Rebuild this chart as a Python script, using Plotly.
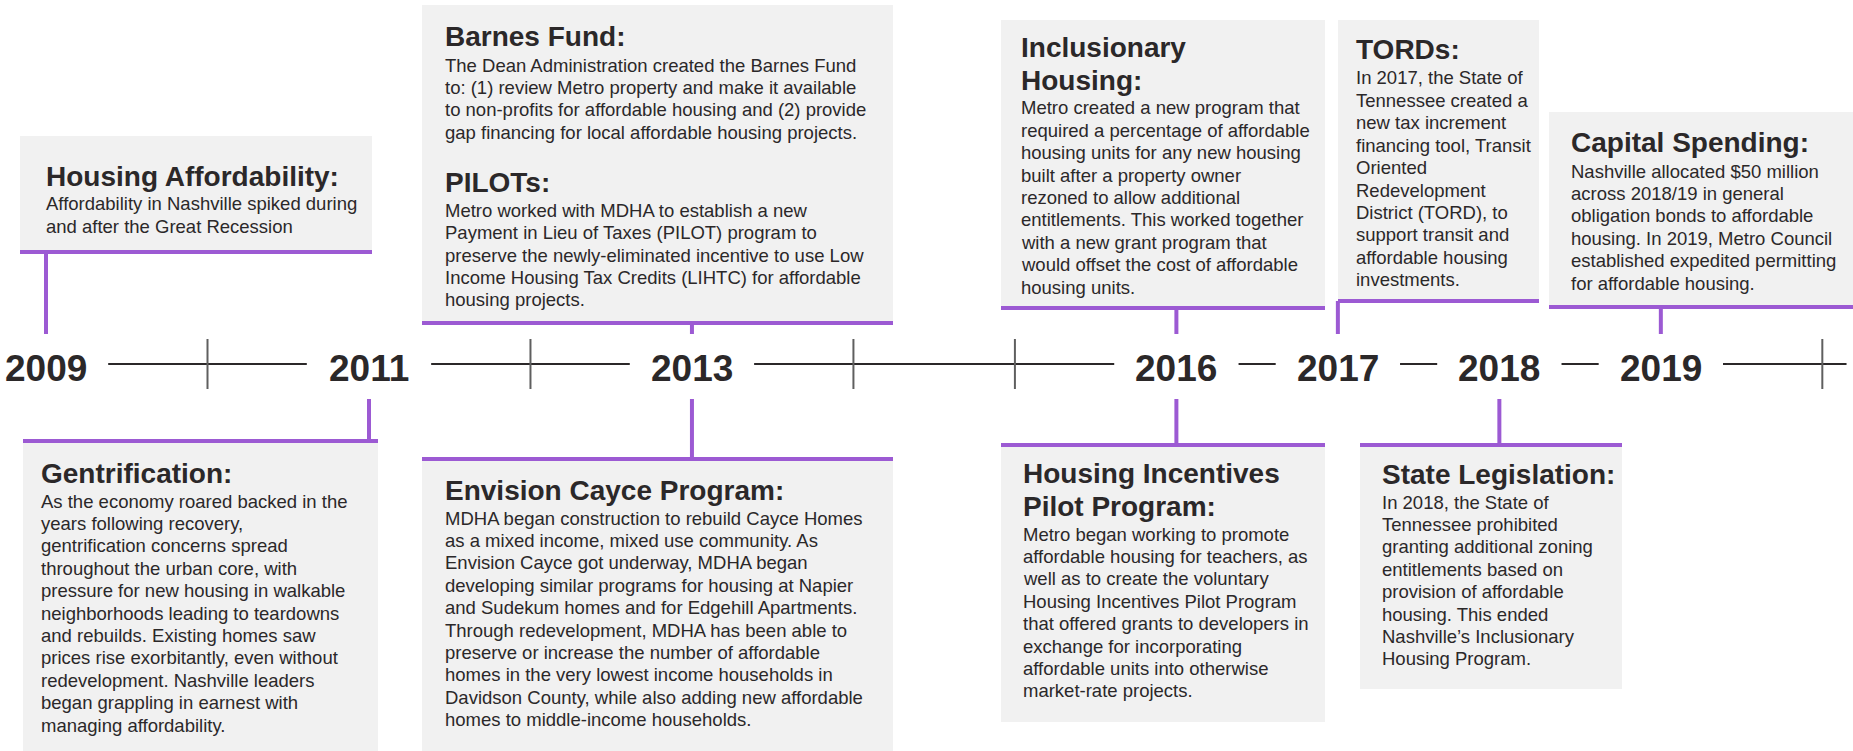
import plotly.graph_objects as go

# ---------------- data ----------------
label_years = [2009, 2011, 2013, 2016, 2017, 2018, 2019]
tick_years = [2010, 2012, 2014, 2015, 2020]
line_end_year = 2020.15

event_years = [2009, 2011, 2013, 2013, 2016, 2016, 2017, 2018, 2019]
event_sides = ["above", "below", "above", "below", "above", "below", "above", "below", "above"]

housing_affordability = [(["Housing Affordability:"], [
    "Affordability in Nashville spiked during",
    "and after the Great Recession"])]

gentrification = [(["Gentrification:"], [
    "As the economy roared backed in the",
    "years following recovery,",
    "gentrification concerns spread",
    "throughout the urban core, with",
    "pressure for new housing in walkable",
    "neighborhoods leading to teardowns",
    "and rebuilds. Existing homes saw",
    "prices rise exorbitantly, even without",
    "redevelopment. Nashville leaders",
    "began grappling in earnest with",
    "managing affordability."])]

barnes_pilots = [
    (["Barnes Fund:"], [
        "The Dean Administration created the Barnes Fund",
        "to: (1) review Metro property and make it available",
        "to non-profits for affordable housing and (2) provide",
        "gap financing for local affordable housing projects."]),
    (["PILOTs:"], [
        "Metro worked with MDHA to establish a new",
        "Payment in Lieu of Taxes (PILOT) program to",
        "preserve the newly-eliminated incentive to use Low",
        "Income Housing Tax Credits (LIHTC) for affordable",
        "housing projects."])]

envision_cayce = [(["Envision Cayce Program:"], [
    "MDHA began construction to rebuild Cayce Homes",
    "as a mixed income, mixed use community. As",
    "Envision Cayce got underway, MDHA began",
    "developing similar programs for housing at Napier",
    "and Sudekum homes and for Edgehill Apartments.",
    "Through redevelopment, MDHA has been able to",
    "preserve or increase the number of affordable",
    "homes in the very lowest income households in",
    "Davidson County, while also adding new affordable",
    "homes to middle-income households."])]

inclusionary = [(["Inclusionary", "Housing:"], [
    "Metro created a new program that",
    "required a percentage of affordable",
    "housing units for any new housing",
    "built after a property owner",
    "rezoned to allow additional",
    "entitlements. This worked together",
    "with a new grant program that",
    "would offset the cost of affordable",
    "housing units."])]

incentives = [(["Housing Incentives", "Pilot Program:"], [
    "Metro began working to promote",
    "affordable housing for teachers, as",
    "well as to create the voluntary",
    "Housing Incentives Pilot Program",
    "that offered grants to developers in",
    "exchange for incorporating",
    "affordable units into otherwise",
    "market-rate projects."])]

tords = [(["TORDs:"], [
    "In 2017, the State of",
    "Tennessee created a",
    "new tax increment",
    "financing tool, Transit",
    "Oriented",
    "Redevelopment",
    "District (TORD), to",
    "support transit and",
    "affordable housing",
    "investments."])]

state_legislation = [(["State Legislation:"], [
    "In 2018, the State of",
    "Tennessee prohibited",
    "granting additional zoning",
    "entitlements based on",
    "provision of affordable",
    "housing. This ended",
    "Nashville\u2019s Inclusionary",
    "Housing Program."])]

capital_spending = [(["Capital Spending:"], [
    "Nashville allocated $50 million",
    "across 2018/19 in general",
    "obligation bonds to affordable",
    "housing. In 2019, Metro Council",
    "established expedited permitting",
    "for affordable housing."])]

event_contents = [housing_affordability, gentrification, barnes_pilots, envision_cayce,
                  inclusionary, incentives, tords, state_legislation, capital_spending]

# ---------------- layout (pixels) ----------------
W, H = 1853, 751
# box: x0, x1, top, bottom, text_x, first title centre
box_geom = [
    (20, 372, 136, 252, 44, 176),
    (23, 378, 441, 760, 39, 473),
    (422, 893, 5, 323, 443, 37),
    (422, 893, 459, 760, 443, 490),
    (1001, 1325, 20, 308, 1019, 47),
    (1001, 1325, 445, 722, 1021, 473),
    (1338, 1539, 20, 301, 1354, 50),
    (1360, 1622, 445, 689, 1380, 474),
    (1549, 1860, 112, 307, 1569, 143),
]

FONT = "Liberation Sans, Arial, Helvetica, sans-serif"
TEXT = "#2b2829"
PURPLE = "#9c5ad3"
FILL = "#f1f1f1"
TITLE_SIZE = 28
BODY_SIZE = 18.5
YEAR_SIZE = 37
TITLE_LH = 33
BODY_LH = 22.4
TITLE_TO_BODY = 28
SECTION_GAP = 50
TL_PX = 364          # pixel row of the timeline
UP_END = 334         # connectors above end here
DOWN_START = 399     # connectors below start here
GAP = 0.385          # half gap (years) around a year label
TICK_HALF = 25
YEAR_SHIFT = -4      # year labels sit slightly below the line

X_RANGE = [2008.715, 2020.19]


def xp(px):
    return px / W


def yp(py):
    return 1 - py / H


shapes, annotations = [], []
for year, side, content, geom in zip(event_years, event_sides, event_contents, box_geom):
    x0, x1, top, bot, tx, ty = geom
    shapes.append(dict(type="rect", xref="paper", yref="paper", x0=xp(x0), x1=xp(x1),
                       y0=yp(bot), y1=yp(top), fillcolor=FILL, line=dict(width=0), layer="below"))
    edge = bot if side == "above" else top
    shapes.append(dict(type="line", xref="paper", yref="paper", x0=xp(x0), x1=xp(x1),
                       y0=yp(edge), y1=yp(edge), line=dict(color=PURPLE, width=4)))
    c0, c1 = (edge, UP_END) if side == "above" else (DOWN_START, edge)
    shapes.append(dict(type="line", xref="x", yref="paper", x0=year, x1=year,
                       y0=yp(c0), y1=yp(c1), line=dict(color=PURPLE, width=4)))
    y = ty
    last_body = None
    for si, (tl, bl) in enumerate(content):
        if si > 0:
            y = last_body + SECTION_GAP
        for i, t in enumerate(tl):
            annotations.append(dict(text="<b>" + t + "</b>", x=xp(tx), y=yp(y + i * TITLE_LH),
                                    xref="paper", yref="paper", xanchor="left", yanchor="middle",
                                    showarrow=False, font=dict(family=FONT, size=TITLE_SIZE, color=TEXT)))
        yb = y + (len(tl) - 1) * TITLE_LH + TITLE_TO_BODY
        for j, b in enumerate(bl):
            annotations.append(dict(text=b, x=xp(tx), y=yp(yb + j * BODY_LH),
                                    xref="paper", yref="paper", xanchor="left", yanchor="middle",
                                    showarrow=False, font=dict(family=FONT, size=BODY_SIZE, color=TEXT)))
        last_body = yb + (len(bl) - 1) * BODY_LH

# year labels on the timeline
for yr in label_years:
    annotations.append(dict(text="<b>%d</b>" % yr, x=yr, y=0, xref="x", yref="y",
                            xanchor="center", yanchor="middle", yshift=YEAR_SHIFT,
                            showarrow=False, font=dict(family=FONT, size=YEAR_SIZE, color=TEXT)))

# timeline segments between labels
seg_x, seg_y = [], []
for a, b in zip(label_years, label_years[1:] + [line_end_year]):
    start = a + GAP
    end = b - GAP if b in label_years else b
    seg_x += [start, end, None]
    seg_y += [0, 0, None]

tick_x, tick_y = [], []
for t in tick_years:
    tick_x += [t, t, None]
    tick_y += [-TICK_HALF, TICK_HALF, None]

fig = go.Figure()
fig.add_trace(go.Scatter(x=seg_x, y=seg_y, mode="lines",
                         line=dict(color="#2b2829", width=2), hoverinfo="skip"))
fig.add_trace(go.Scatter(x=tick_x, y=tick_y, mode="lines",
                         line=dict(color="#5f5f5f", width=2), hoverinfo="skip"))

fig.update_layout(
    width=W, height=H, autosize=False,
    margin=dict(l=0, r=0, t=0, b=0),
    paper_bgcolor="white", plot_bgcolor="white",
    showlegend=False, hovermode=False,
    xaxis=dict(range=X_RANGE, visible=False, fixedrange=True),
    yaxis=dict(range=[TL_PX - H, TL_PX], visible=False, fixedrange=True),
    shapes=shapes, annotations=annotations,
)

fig.write_html("out.html", config={"displayModeBar": False},
               post_script="document.body.style.margin='0';document.body.style.overflow='hidden';")
